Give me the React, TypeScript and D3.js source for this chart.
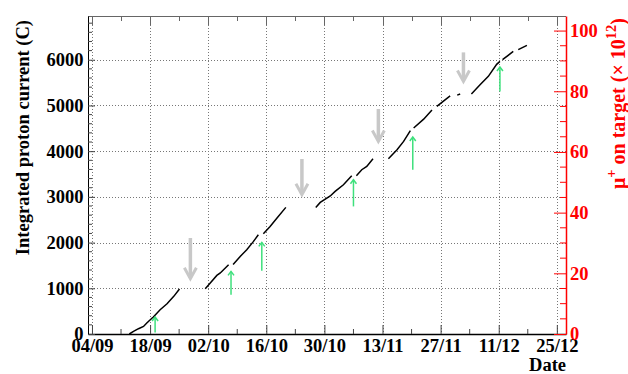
import React, { useRef, useEffect } from "react";
import * as d3 from "d3";

const W = 628;
const H = 374;
const margin = { top: 16, right: 62, bottom: 40, left: 88 };
const FONT = "'Liberation Serif', 'Times New Roman', serif";

// axis ticks
const dateTicks = ["2017-09-04", "2017-09-18", "2017-10-02", "2017-10-16", "2017-10-30", "2017-11-13", "2017-11-27", "2017-12-11", "2017-12-25"];
const minorDateTicks = ["2017-09-11", "2017-09-25", "2017-10-09", "2017-10-23", "2017-11-06", "2017-11-20", "2017-12-04", "2017-12-18"];
const currentTicks = [0, 1000, 2000, 3000, 4000, 5000, 6000];
const muTicks = [0, 20, 40, 60, 80, 100];

// integrated proton current (C); null = beam off / no data
const beamTimes = [
  "2017-09-13 00", "2017-09-14 00", "2017-09-15 05", "2017-09-16 10", "2017-09-17 05", "2017-09-18 12", "2017-09-18 19",
  "2017-09-20 10", "2017-09-22 02", "2017-09-23 17", "2017-09-25 02", "2017-09-28 00",
  "2017-10-01 07", "2017-10-02 12", "2017-10-04 02", "2017-10-04 22", "2017-10-06 22", "2017-10-07 12",
  "2017-10-08 00", "2017-10-09 17", "2017-10-11 07", "2017-10-12 22", "2017-10-14 02", "2017-10-14 20",
  "2017-10-15 07", "2017-10-16 22", "2017-10-18 14", "2017-10-20 17", "2017-10-24 00",
  "2017-10-27 22", "2017-10-29 00", "2017-10-31 10", "2017-11-01 14", "2017-11-03 14", "2017-11-05 14", "2017-11-06 05",
  "2017-11-06 17", "2017-11-08 00", "2017-11-09 05", "2017-11-10 17", "2017-11-12 00",
  "2017-11-14 10", "2017-11-16 12", "2017-11-18 02", "2017-11-19 17", "2017-11-20 02",
  "2017-11-20 12", "2017-11-22 22", "2017-11-24 22", "2017-11-25 12",
  "2017-11-26 02", "2017-11-29 07", "2017-11-30 12",
  "2017-12-01 00", "2017-12-01 17", "2017-12-03 00",
  "2017-12-04 10", "2017-12-06 12", "2017-12-08 12", "2017-12-10 12", "2017-12-11 07", "2017-12-11 14",
  "2017-12-11 22", "2017-12-14 12", "2017-12-15 02",
  "2017-12-15 17", "2017-12-17 19",
];
const beamCurrent = [
  0, 57, 116, 166, 241, 350, 372,
  532, 663, 823, 985, null,
  990, 1116, 1282, 1335, 1516, null,
  1520, 1698, 1844, 2026, 2172, null,
  2194, 2354, 2538, 2770, null,
  2770, 2879, 3020, 3120, 3266, 3463, null,
  3463, 3594, 3667, 3835, null,
  3835, 4032, 4214, 4450, null,
  4507, 4700, 4900, null,
  4978, 5210, null,
  5225, 5250, null,
  5250, 5454, 5636, 5900, 5964, null,
  6001, 6182, null,
  6220, 6314,
];

// annotation arrows
const grayArrowTimes = ["2017-09-27 17", "2017-10-24 14", "2017-11-12 00", "2017-12-02 12"];
const grayArrowTop = [2100, 3829, 4922, 6161];
const grayArrowTip = [1210, 3047, 4213, 5526];
const greenArrowTimes = ["2017-09-19 05", "2017-10-07 12", "2017-10-14 22", "2017-11-06 00", "2017-11-20 07", "2017-12-11 07"];
const greenArrowTail = [35, 860, 1385, 2791, 3594, 5307];
const greenArrowTip = [372, 1370, 2004, 3376, 4310, 5841];

const parseDay = d3.utcParse("%Y-%m-%d");
const parseHour = d3.utcParse("%Y-%m-%d %H");

const App = () => {
  const svgRef = useRef<SVGSVGElement | null>(null);

  useEffect(() => {
    const svg = d3.select(svgRef.current);
    svg.selectAll("*").remove();

    const x0 = margin.left;
    const x1 = W - margin.right;
    const y0 = H - margin.bottom;
    const y1 = margin.top;

    const x = d3
      .scaleUtc()
      .domain([parseHour("2017-09-03 01")!, parseHour("2017-12-27 05")!])
      .range([x0, x1]);
    const y = d3.scaleLinear().domain([0, 6957]).range([y0, y1]);
    const yMu = d3.scaleLinear().domain([0, 104.8]).range([y0, y1]);

    svg.append("rect").attr("width", W).attr("height", H).attr("fill", "white");

    // grid
    const grid = svg.append("g").attr("stroke", "#777").attr("stroke-width", 1).attr("stroke-dasharray", "1,2");
    dateTicks.forEach((t) => {
      const px = Math.round(x(parseDay(t)!)) + 0.5;
      grid.append("line").attr("x1", px).attr("x2", px).attr("y1", y1).attr("y2", y0);
    });
    currentTicks.slice(1).forEach((v) => {
      const py = Math.round(y(v)) + 0.5;
      grid.append("line").attr("x1", x0).attr("x2", x1).attr("y1", py).attr("y2", py);
    });

    // data line
    const pts = beamTimes.map((t, i) => ({ t: parseHour(t)!, v: beamCurrent[i] }));
    const line = d3
      .line<{ t: Date; v: number | null }>()
      .defined((d) => d.v != null)
      .x((d) => x(d.t))
      .y((d) => y(d.v as number));
    svg
      .append("path")
      .datum(pts)
      .attr("fill", "none")
      .attr("stroke", "black")
      .attr("stroke-width", 1.5)
      .attr("d", line);

    // gray arrows (pointing down)
    grayArrowTimes.forEach((t, i) => {
      const ax = x(parseHour(t)!);
      const top = y(grayArrowTop[i]);
      const tip = y(grayArrowTip[i]);
      const g = svg.append("g").attr("stroke", "#c8c8c8").attr("fill", "none");
      g.append("line").attr("x1", ax).attr("x2", ax).attr("y1", top).attr("y2", tip - 1).attr("stroke-width", 3.5);
      g.append("path")
        .attr("d", `M${ax - 6},${tip - 11}L${ax},${tip}L${ax + 6},${tip - 11}`)
        .attr("stroke-width", 3);
    });

    // green arrows (pointing up)
    greenArrowTimes.forEach((t, i) => {
      const ax = x(parseHour(t)!);
      const tail = y(greenArrowTail[i]);
      const tip = y(greenArrowTip[i]);
      const g = svg.append("g").attr("stroke", "#3ee07c").attr("fill", "none").attr("stroke-width", 1.5);
      g.append("line").attr("x1", ax).attr("x2", ax).attr("y1", tail).attr("y2", tip);
      g.append("path").attr("d", `M${ax - 3},${tip + 4}L${ax},${tip}L${ax + 3},${tip + 4}`);
    });

    // top frame with mirrored ticks
    const top = svg.append("g").attr("stroke", "#666").attr("stroke-width", 1);
    top.append("line").attr("x1", x0).attr("x2", x1).attr("y1", y1 + 0.5).attr("y2", y1 + 0.5);
    dateTicks.forEach((t) => {
      const px = Math.round(x(parseDay(t)!)) + 0.5;
      top.append("line").attr("x1", px).attr("x2", px).attr("y1", y1).attr("y2", y1 + 9);
    });
    minorDateTicks.forEach((t) => {
      const px = Math.round(x(parseDay(t)!)) + 0.5;
      top.append("line").attr("x1", px).attr("x2", px).attr("y1", y1).attr("y2", y1 + 5);
    });

    // bottom axis
    const bottom = svg
      .append("g")
      .attr("transform", `translate(0,${y0})`)
      .call(
        d3
          .axisBottom(x)
          .tickValues(dateTicks.map((t) => parseDay(t)!))
          .tickFormat((d) => d3.utcFormat("%d/%m")(d as Date))
          .tickSizeInner(-9)
          .tickSizeOuter(0)
          .tickPadding(5)
      );
    minorDateTicks.forEach((t) => {
      const px = x(parseDay(t)!);
      bottom.append("line").attr("x1", px).attr("x2", px).attr("y1", 0).attr("y2", -5).attr("stroke", "#444");
    });
    bottom.select(".domain").attr("stroke", "black").attr("stroke-width", 1.3);
    bottom.selectAll(".tick line").attr("stroke", "#444");

    // left axis
    const left = svg
      .append("g")
      .attr("transform", `translate(${x0},0)`)
      .call(d3.axisLeft(y).tickValues(currentTicks).tickSizeInner(-7).tickSizeOuter(0).tickPadding(4.5).tickFormat(d3.format("d")));
    d3.range(200, 6957, 200)
      .filter((v) => v % 1000 !== 0)
      .forEach((v) => {
        left.append("line").attr("x1", 0).attr("x2", 4).attr("y1", y(v)).attr("y2", y(v)).attr("stroke", "#444");
      });
    left.select(".domain").attr("stroke", "black");
    left.selectAll(".tick line").attr("stroke", "#444");

    // right axis (mu+ on target)
    const right = svg
      .append("g")
      .attr("transform", `translate(${x1},0)`)
      .attr("color", "#ff0000")
      .call(d3.axisRight(yMu).tickValues(muTicks).tickSizeInner(-12).tickSizeOuter(0).tickPadding(4));
    d3.range(5, 104.8, 5)
      .filter((v) => v % 20 !== 0)
      .forEach((v) => {
        right.append("line").attr("x1", 0).attr("x2", -6).attr("y1", yMu(v)).attr("y2", yMu(v)).attr("stroke", "#ff0000");
      });
    right.select(".domain").attr("stroke-width", 1.5);

    [bottom, left, right].forEach((g) =>
      g.attr("font-family", FONT).attr("font-size", 18.5).attr("font-weight", "bold")
    );

    // titles
    svg
      .append("text")
      .attr("transform", `translate(28.5,${y1 + 4}) rotate(-90)`)
      .attr("text-anchor", "end")
      .attr("font-family", FONT)
      .attr("font-size", 18.5)
      .attr("font-weight", "bold")
      .text("Integrated proton current (C)");

    const rt = svg
      .append("text")
      .attr("transform", `translate(625,${y1 + 2}) rotate(-90)`)
      .attr("text-anchor", "end")
      .attr("font-family", FONT)
      .attr("font-size", 20)
      .attr("font-weight", "bold")
      .attr("fill", "#ff0000");
    rt.append("tspan").text("\u03bc");
    rt.append("tspan").attr("dy", -9).attr("font-size", 14.5).text("+");
    rt.append("tspan").attr("dy", 9).text(" on target (\u00d7 10");
    rt.append("tspan").attr("dy", -9).attr("font-size", 14.5).text("12");
    rt.append("tspan").attr("dy", 9).text(")");

    svg
      .append("text")
      .attr("x", x1)
      .attr("y", 371)
      .attr("text-anchor", "end")
      .attr("font-family", FONT)
      .attr("font-size", 18.5)
      .attr("font-weight", "bold")
      .text("Date");

    return () => {
      svg.selectAll("*").remove();
    };
  }, []);

  return <svg ref={svgRef} width={W} height={H} style={{ position: "absolute", left: 0, top: 0 }}></svg>;
};

export default App;
